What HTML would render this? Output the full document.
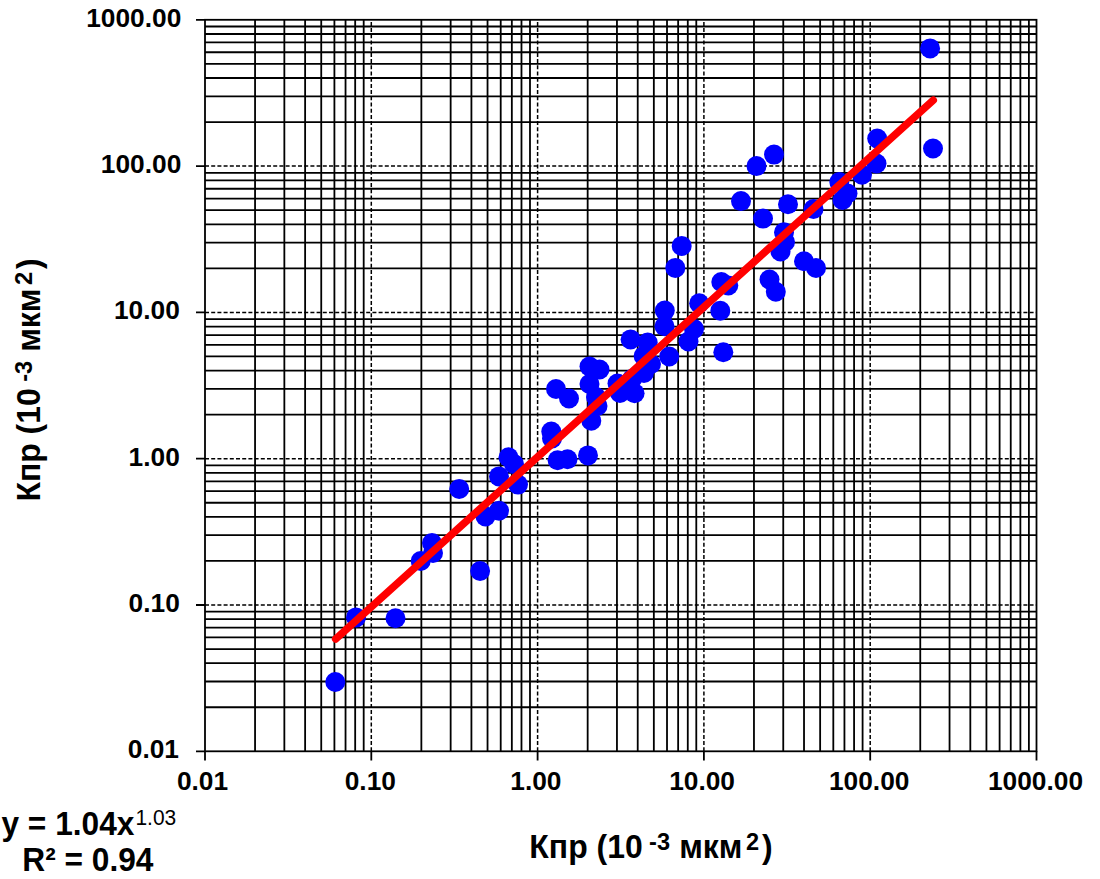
<!DOCTYPE html>
<html><head><meta charset="utf-8"><style>
html,body{margin:0;padding:0;background:#fff;}
body{width:1100px;height:879px;overflow:hidden;position:relative;}
svg{position:absolute;left:0;top:0;}
text{font-family:"Liberation Sans",sans-serif;font-weight:bold;fill:#000;}
</style></head><body>
<svg width="1100" height="879" viewBox="0 0 1100 879">
<rect width="1100" height="879" fill="#fff"/>
<path d="M255.06 751.30V19.80M205.00 707.26H1036.50M284.35 751.30V19.80M205.00 681.50H1036.50M305.12 751.30V19.80M205.00 663.22H1036.50M321.24 751.30V19.80M205.00 649.04H1036.50M334.41 751.30V19.80M205.00 637.46H1036.50M345.54 751.30V19.80M205.00 627.66H1036.50M355.18 751.30V19.80M205.00 619.18H1036.50M363.69 751.30V19.80M205.00 611.69H1036.50M421.36 751.30V19.80M205.00 560.96H1036.50M450.65 751.30V19.80M205.00 535.20H1036.50M471.42 751.30V19.80M205.00 516.92H1036.50M487.54 751.30V19.80M205.00 502.74H1036.50M500.71 751.30V19.80M205.00 491.16H1036.50M511.84 751.30V19.80M205.00 481.36H1036.50M521.48 751.30V19.80M205.00 472.88H1036.50M529.99 751.30V19.80M205.00 465.39H1036.50M587.66 751.30V19.80M205.00 414.66H1036.50M616.95 751.30V19.80M205.00 388.90H1036.50M637.72 751.30V19.80M205.00 370.62H1036.50M653.84 751.30V19.80M205.00 356.44H1036.50M667.01 751.30V19.80M205.00 344.86H1036.50M678.14 751.30V19.80M205.00 335.06H1036.50M687.78 751.30V19.80M205.00 326.58H1036.50M696.29 751.30V19.80M205.00 319.09H1036.50M753.96 751.30V19.80M205.00 268.36H1036.50M783.25 751.30V19.80M205.00 242.60H1036.50M804.02 751.30V19.80M205.00 224.32H1036.50M820.14 751.30V19.80M205.00 210.14H1036.50M833.31 751.30V19.80M205.00 198.56H1036.50M844.44 751.30V19.80M205.00 188.76H1036.50M854.08 751.30V19.80M205.00 180.28H1036.50M862.59 751.30V19.80M205.00 172.79H1036.50M920.26 751.30V19.80M205.00 122.06H1036.50M949.55 751.30V19.80M205.00 96.30H1036.50M970.32 751.30V19.80M205.00 78.02H1036.50M986.44 751.30V19.80M205.00 63.84H1036.50M999.61 751.30V19.80M205.00 52.26H1036.50M1010.74 751.30V19.80M205.00 42.46H1036.50M1020.38 751.30V19.80M205.00 33.98H1036.50M1028.89 751.30V19.80M205.00 26.49H1036.50" stroke="#000" stroke-width="1.8" fill="none"/>
<path d="M371.30 751.30V19.80M205.00 605.00H1036.50M537.60 751.30V19.80M205.00 458.70H1036.50M703.90 751.30V19.80M205.00 312.40H1036.50M870.20 751.30V19.80M205.00 166.10H1036.50" stroke="#000" stroke-width="1.5" stroke-dasharray="4 2.2" fill="none"/>
<rect x="205.00" y="19.80" width="831.50" height="731.50" stroke="#000" stroke-width="1.8" fill="none"/>
<path d="M196.00 751.30H205.00M205.00 751.30V760.50M196.00 605.00H205.00M371.30 751.30V760.50M196.00 458.70H205.00M537.60 751.30V760.50M196.00 312.40H205.00M703.90 751.30V760.50M196.00 166.10H205.00M870.20 751.30V760.50M196.00 19.80H205.00M1036.50 751.30V760.50" stroke="#000" stroke-width="1.8" fill="none"/>
<g fill="#0000ff"><circle cx="335.3" cy="682" r="10.0"/><circle cx="356" cy="617.4" r="10.0"/><circle cx="395.5" cy="618.2" r="10.0"/><circle cx="420.7" cy="561" r="10.0"/><circle cx="432" cy="543" r="10.0"/><circle cx="433" cy="553" r="10.0"/><circle cx="480.1" cy="571" r="10.0"/><circle cx="459.2" cy="489" r="10.0"/><circle cx="485.5" cy="516.5" r="10.0"/><circle cx="499" cy="510.8" r="10.0"/><circle cx="499" cy="476.4" r="10.0"/><circle cx="518" cy="484.6" r="10.0"/><circle cx="508.5" cy="457.2" r="10.0"/><circle cx="514" cy="464" r="10.0"/><circle cx="551.3" cy="431.5" r="10.0"/><circle cx="552" cy="438.5" r="10.0"/><circle cx="557.6" cy="460.2" r="10.0"/><circle cx="567.5" cy="459.2" r="10.0"/><circle cx="588" cy="455.4" r="10.0"/><circle cx="591.3" cy="420.8" r="10.0"/><circle cx="597.5" cy="406" r="10.0"/><circle cx="596" cy="397" r="10.0"/><circle cx="556" cy="389" r="10.0"/><circle cx="569" cy="398.5" r="10.0"/><circle cx="589.5" cy="366.5" r="10.0"/><circle cx="599.5" cy="369.5" r="10.0"/><circle cx="589.5" cy="384" r="10.0"/><circle cx="617.5" cy="383.5" r="10.0"/><circle cx="620" cy="393" r="10.0"/><circle cx="634.6" cy="393.2" r="10.0"/><circle cx="644" cy="373" r="10.0"/><circle cx="651" cy="364" r="10.0"/><circle cx="632" cy="379" r="10.0"/><circle cx="669.2" cy="356.5" r="10.0"/><circle cx="630.6" cy="339.4" r="10.0"/><circle cx="647.7" cy="342.5" r="10.0"/><circle cx="643.6" cy="356" r="10.0"/><circle cx="664.5" cy="326.3" r="10.0"/><circle cx="664.8" cy="310.6" r="10.0"/><circle cx="699.2" cy="303.2" r="10.0"/><circle cx="720.3" cy="310.8" r="10.0"/><circle cx="694" cy="329" r="10.0"/><circle cx="688.5" cy="341.5" r="10.0"/><circle cx="723.3" cy="352.2" r="10.0"/><circle cx="681.7" cy="245.9" r="10.0"/><circle cx="675.3" cy="267.9" r="10.0"/><circle cx="721.3" cy="282" r="10.0"/><circle cx="728.3" cy="285.4" r="10.0"/><circle cx="741" cy="201.1" r="10.0"/><circle cx="763" cy="218.6" r="10.0"/><circle cx="788" cy="204.3" r="10.0"/><circle cx="784" cy="232.2" r="10.0"/><circle cx="785" cy="242" r="10.0"/><circle cx="780.5" cy="251.5" r="10.0"/><circle cx="804" cy="261.3" r="10.0"/><circle cx="816" cy="268" r="10.0"/><circle cx="769.5" cy="279.5" r="10.0"/><circle cx="775.8" cy="291.8" r="10.0"/><circle cx="774" cy="154.6" r="10.0"/><circle cx="756.5" cy="166.1" r="10.0"/><circle cx="813.5" cy="209" r="10.0"/><circle cx="839.3" cy="182" r="10.0"/><circle cx="847.5" cy="193.5" r="10.0"/><circle cx="842.5" cy="200" r="10.0"/><circle cx="862" cy="174.8" r="10.0"/><circle cx="877.2" cy="138.5" r="10.0"/><circle cx="876.5" cy="163.5" r="10.0"/><circle cx="933" cy="148.5" r="10.0"/><circle cx="930.1" cy="48.4" r="10.0"/></g>
<line x1="335.7" y1="639.0" x2="933.2" y2="100.3" stroke="#ff0000" stroke-width="7.6" stroke-linecap="round"/>
<g font-size="26.3"><text x="179" y="758.30" text-anchor="end">0.01</text><text x="179.8" y="612.00" text-anchor="end">0.10</text><text x="179.8" y="465.70" text-anchor="end">1.00</text><text x="179.8" y="319.40" text-anchor="end">10.00</text><text x="181.3" y="173.10" text-anchor="end">100.00</text><text x="181.3" y="26.80" text-anchor="end">1000.00</text><text x="202.50" y="790.3" text-anchor="middle">0.01</text><text x="370.30" y="790.3" text-anchor="middle">0.10</text><text x="535.90" y="790.3" text-anchor="middle">1.00</text><text x="702.10" y="790.3" text-anchor="middle">10.00</text><text x="869.20" y="790.3" text-anchor="middle">100.00</text><text x="1035.50" y="790.3" text-anchor="middle">1000.00</text></g>
<g transform="translate(529.37,857.9) scale(0.983,1)"><text x="0" y="0" font-size="32.5">Кпр (10</text><text x="121.8" y="-7.7" font-size="24">-3</text><text x="152.4" y="0" font-size="32.5">мкм</text><text x="220.4" y="-7.7" font-size="24">2</text><text x="236.6" y="0" font-size="32.5">)</text></g>
<g transform="translate(40,501.6) rotate(-90) scale(0.983,1)"><text x="0" y="0" font-size="32.5">Кпр (10</text><text x="121.8" y="-7.7" font-size="24">-3</text><text x="152.4" y="0" font-size="32.5">мкм</text><text x="220.4" y="-7.7" font-size="24">2</text><text x="236.6" y="0" font-size="32.5">)</text></g>
<g transform="translate(1.46,0) scale(0.975,1)" font-size="32.5"><text x="0" y="834.9">y = 1.04x</text><text x="137.4" y="825.5" font-size="21.5" style="font-weight:normal">1.03</text><text x="21.35" y="871.5">R² = 0.94</text></g>
</svg>
</body></html>
